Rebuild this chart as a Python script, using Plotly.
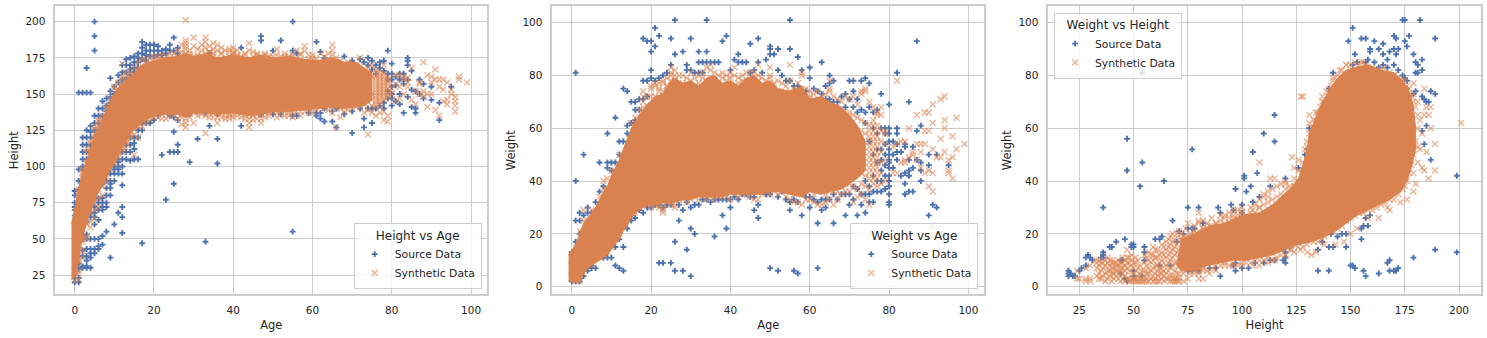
import plotly.graph_objects as go

# colours from the seaborn deep palette, grid is whitegrid '.8'
blue = '#4c72b0'
orange = '#dd8452'
core_orange = '#d9824f'
grid = '#cccccc'
ink = '#262626'

# all points are read off the picture, as (x, [y, y, ...]) columns
# the saturated middle of each cloud cannot be read point by point, so it is kept as an outline

# ---- Height vs Age
height_age_source = [
    (0, [20, 23, 26, 30, 34, 38, 42, 46, 50, 54, 58, 62, 66, 70, 72, 75, 80, 83]),
    (1, [20, 23, 29, 33, 38, 44, 48, 52, 58, 62, 68, 75, 84, 90, 98, 151]),
    (2, [30, 31, 38, 42, 50, 52, 60, 65, 90, 98, 100, 105, 110, 115, 120, 151]),
    (3, [30, 31, 35, 38, 43, 50, 53, 62, 70, 100, 105, 110, 115, 120, 125, 151, 168]),
    (4, [30, 37, 40, 43, 50, 65, 68, 75, 80, 110, 115, 120, 124, 128, 151]),
    (5, [40, 43, 50, 60, 65, 68, 72, 78, 82, 120, 125, 130, 135, 180, 190, 200]),
    (6, [43, 45, 50, 63, 70, 75, 78, 85, 125, 130, 135, 140]),
    (7, [46, 52, 70, 72, 75, 78, 88, 92, 130, 135, 140, 145]),
    (8, [55, 72, 75, 80, 85, 90, 95, 100, 132, 138, 142, 147]),
    (9, [37, 80, 85, 88, 90, 95, 100, 140, 144, 148, 152, 161]),
    (10, [60, 90, 95, 98, 100, 105, 146, 150, 155]),
    (11, [68, 95, 98, 100, 103, 105, 110, 152, 158, 163]),
    (12, [54, 65, 72, 87, 95, 100, 105, 110, 156, 160, 165, 170]),
    (13, [105, 110, 115, 160, 165, 170, 174]),
    (14, [104, 110, 115, 120, 163, 167, 170, 175]),
    (15, [105, 112, 116, 120, 165, 168, 172, 176]),
    (16, [105, 120, 125, 130, 168, 172, 175, 178]),
    (17, [47, 125, 130, 135, 174, 178, 182, 186]),
    (18, [130, 134, 173, 177, 180, 184]),
    (19, [130, 176, 180, 184]),
    (20, [132, 176, 180, 184]),
    (21, [135, 177, 180, 183]),
    (22, [108, 177, 180]),
    (23, [77, 178, 181]),
    (24, [110, 135, 180, 184]),
    (25, [88, 110, 124, 134, 180, 189]),
    (26, [110, 115, 132, 178, 182]),
    (29, [103, 136]),
    (31, [119, 138]),
    (33, [48, 137]),
    (34, [128, 178]),
    (36, [102, 119, 136]),
    (42, [128, 138, 182]),
    (47, [136, 187, 190]),
    (50, [136, 180]),
    (52, [136, 187]),
    (55, [55, 135, 180, 200]),
    (56, [135, 178]),
    (59, [137]),
    (61, [135, 137, 186]),
    (62, [133, 137, 179]),
    (63, [131, 140, 175]),
    (65, [131, 138, 172]),
    (66, [127, 140]),
    (68, [136, 176]),
    (70, [123, 138, 173]),
    (72, [140, 174]),
    (73, [127, 133, 172]),
    (74, [140, 170, 175]),
    (75, [130, 140, 167, 173]),
    (76, [140, 164, 170]),
    (77, [142, 168, 172]),
    (78, [140, 144, 166, 173]),
    (79, [147, 152, 160, 164, 180]),
    (80, [142, 147, 150, 155, 160, 164, 171]),
    (81, [145, 156, 162]),
    (82, [143, 150, 160, 164]),
    (83, [137, 157, 160, 164]),
    (84, [148, 160, 170, 173, 175]),
    (85, [141, 153, 166]),
    (86, [137, 140, 152]),
    (87, [150, 160]),
    (88, [147, 157]),
    (90, [146, 155]),
    (92, [132, 144]),
    (95, [155]),
]
height_age_core_x = [-0.8, 0.6, 1.4, 2.3, 3.2, 4.2, 5.2, 6.2, 7.2, 8.2, 9.2, 10.2, 11.2, 12.4, 13.5, 15,
                     17, 20, 23, 26, 28, 30, 33, 36, 40, 44, 47, 50, 54, 58, 61, 65, 68, 71, 73, 75,
                     75, 73, 71, 68, 65, 61, 58, 54, 50, 47, 44, 40, 36, 33, 30, 28, 26, 23, 20,
                     18, 16, 14.5, 13.5, 12.5, 11.5, 10.5, 9.5, 8.5, 7.5, 6.5, 5.5, 4.5, 3.5, 2.5, 1.5, 0.5, -0.8]
height_age_core_y = [60, 78, 90, 98, 106, 115, 123, 128, 133, 139, 146, 151, 155, 158, 161, 165,
                     170, 173, 175, 176, 178, 176, 178, 175, 177, 175, 177, 175, 176, 174, 173, 175, 172, 172, 168, 165,
                     146, 142, 141, 140, 141, 140, 139, 138, 138, 136, 135, 137, 136, 137, 137, 134, 136, 136, 135,
                     132, 128, 124, 120, 115, 110, 105, 100, 96, 91, 85, 79, 72, 65, 56, 45, 26, 22]
height_age_edge = [
    (1, [28, 36, 80, 84]), (2, [42, 50, 94, 98]), (3, [52, 60, 104, 110]), (4, [62, 68, 112, 118]),
    (5, [70, 75, 120, 126]), (6, [78, 84, 126, 131]), (7, [86, 90, 131, 135]), (8, [92, 97, 137, 142]),
    (9, [98, 102, 142, 147]), (10, [102, 106, 150, 155]), (11, [106, 110, 153, 158]), (12, [110, 114, 156, 162]),
    (13, [116, 118, 160, 165]), (14, [120, 121, 164]), (16, [128, 168]), (18, [130, 133, 171, 173]),
    (19, [132, 135, 172, 175]), (21, [134, 137, 174, 176]), (22, [133, 136, 173, 177]), (24, [135, 138, 175, 178]),
    (26, [137, 176]), (27, [136, 175, 179]), (29, [136, 139, 176, 180]), (31, [135, 138, 177, 181]),
    (32, [137, 176]), (34, [134, 138, 177, 179]), (35, [137, 176, 181]), (37, [134, 139, 178]),
    (39, [135, 138, 176, 179]), (40, [134, 139, 179]), (41, [135, 176, 180]), (43, [133, 138, 177]),
    (45, [132, 138, 179]), (46, [136, 177]), (48, [134, 139, 178]), (49, [135, 138, 176]), (51, [134, 139, 177]),
    (52, [136, 139, 176]), (53, [135, 178]), (54, [137, 175]), (55, [139, 177]), (57, [135, 178]),
    (59, [137, 140, 174, 177]), (60, [137, 175]), (61, [139, 174]),
]
height_age_synthetic = [
    (0, [21, 24, 28, 33]),
    (1, [22, 26, 34, 82]),
    (2, [38, 48, 92, 96]),
    (3, [50, 102, 112]),
    (4, [58, 110, 116]),
    (5, [64, 122, 128]),
    (6, [72, 128, 132]),
    (7, [80, 133]),
    (8, [90, 140]),
    (10, [103, 154]),
    (12, [112, 171, 160]),
    (13, [113, 116, 163]),
    (15, [108, 122, 168]),
    (16, [120, 127, 172]),
    (17, [128, 174]),
    (20, [134, 176]),
    (23, [133, 176]),
    (25, [135, 178]),
    (26, [133, 180]),
    (27, [129, 134, 177, 184]),
    (28, [127, 130, 133, 136, 175, 178, 181, 183, 185, 187, 201]),
    (29, [134, 178]),
    (30, [130, 137, 176, 183, 189]),
    (32, [136, 180, 184]),
    (33, [123, 135, 178, 182, 186, 189]),
    (34, [136, 179, 183]),
    (35, [134, 178, 185]),
    (36, [130, 134, 180, 184]),
    (37, [136, 178, 182]),
    (38, [133, 135, 180]),
    (39, [133, 136, 181]),
    (40, [136, 178, 182]),
    (41, [138, 177]),
    (42, [134, 137, 176]),
    (43, [135, 178]),
    (44, [127, 130, 133, 136, 180, 185]),
    (45, [135, 176]),
    (46, [133, 137, 178]),
    (47, [130, 133, 136, 176]),
    (48, [137, 177]),
    (49, [137, 175]),
    (50, [138, 176]),
    (51, [137, 181]),
    (53, [138, 176]),
    (54, [135, 176]),
    (55, [134, 137, 175]),
    (56, [138, 180]),
    (57, [138, 177]),
    (58, [138, 180, 183]),
    (60, [140, 173, 177]),
    (62, [141, 172, 178]),
    (63, [140, 172, 176]),
    (64, [139, 174, 178]),
    (65, [137, 141, 173, 177, 180, 184]),
    (66, [127, 140, 175]),
    (67, [134, 140, 173]),
    (68, [138, 141, 171]),
    (69, [139, 172]),
    (70, [140, 171]),
    (71, [141, 170]),
    (72, [141, 169, 175]),
    (73, [137, 143, 147, 163, 167]),
    (74, [122, 139, 144, 148, 164, 168]),
    (75, [137, 142, 146, 150, 162, 170]),
    (76, [135, 141, 143, 145, 147, 149, 151, 153, 155, 157, 159, 161, 163, 165, 167]),
    (77, [137, 143, 145, 147, 149, 151, 153, 155, 157, 159, 161, 163, 165]),
    (78, [132, 138, 146, 148, 150, 152, 154, 156, 158, 160, 162, 164, 170]),
    (79, [131, 135, 148, 150, 152, 154, 156, 158, 160, 162]),
    (80, [150, 154]),
    (81, [145, 157, 163]),
    (82, [147, 155, 163]),
    (83, [150, 160, 162]),
    (84, [155, 158, 161]),
    (85, [146, 168]),
    (86, [143, 152]),
    (87, [150, 157, 158]),
    (88, [148, 152, 172]),
    (89, [141, 150, 163]),
    (90, [150, 158, 162]),
    (91, [139, 160, 167]),
    (92, [135, 155, 160]),
    (93, [145, 153, 160]),
    (94, [143, 146, 158]),
    (95, [150, 153]),
    (96, [138, 142, 145, 148]),
    (97, [160, 162]),
    (99, [158]),
]

# ---- Weight vs Age
weight_age_source = [
    (0, [2, 5, 9, 12, 13]),
    (1, [2, 14, 17, 25, 40, 81]),
    (2, [2, 3, 20, 25, 28]),
    (3, [4, 27, 50]),
    (4, [6, 28, 30]),
    (5, [7, 8, 28]),
    (6, [7, 32]),
    (7, [36, 47]),
    (8, [38, 11]),
    (9, [11, 45, 47, 58]),
    (10, [11, 44, 47]),
    (11, [8, 15, 47, 64]),
    (12, [7, 18, 50, 55]),
    (13, [6, 15, 55, 75]),
    (14, [22, 58, 61, 74]),
    (15, [25, 62, 70]),
    (16, [26, 63, 67, 70]),
    (17, [29, 67, 71]),
    (18, [28, 71, 78, 94]),
    (19, [30, 72, 78, 93]),
    (20, [30, 79, 82, 89, 93]),
    (21, [31, 78, 91, 98]),
    (22, [9, 31, 79, 95]),
    (23, [9, 30, 80]),
    (24, [31, 81]),
    (25, [9, 31, 84, 94]),
    (26, [6, 17, 88, 101]),
    (27, [25, 31]),
    (28, [6, 29, 89]),
    (29, [14, 32, 82, 84]),
    (30, [4, 22, 30, 82, 94]),
    (31, [20, 31, 81]),
    (32, [31, 81, 85, 89]),
    (33, [33, 81, 85]),
    (34, [33, 85, 89, 101]),
    (35, [32, 85]),
    (36, [19, 33, 85]),
    (37, [33, 85]),
    (38, [27, 33, 93]),
    (39, [22, 33, 95]),
    (40, [30, 33, 82]),
    (41, [34, 86]),
    (42, [33, 85, 88]),
    (43, [35, 85]),
    (44, [35, 85]),
    (45, [34, 81, 92]),
    (46, [29, 34, 82]),
    (47, [26, 31, 85, 94]),
    (48, [36, 81]),
    (49, [35, 86]),
    (50, [7, 35, 88, 90, 91]),
    (51, [37, 88]),
    (52, [6, 34, 82, 90]),
    (53, [36, 80]),
    (54, [33, 78]),
    (55, [29, 32, 78, 90, 101]),
    (56, [6, 33, 76]),
    (57, [5, 32, 76, 87]),
    (58, [27, 35, 82]),
    (59, [34, 74]),
    (60, [30, 34, 79, 83]),
    (61, [33, 75]),
    (62, [7, 24, 32, 74]),
    (63, [29, 33, 73, 85]),
    (64, [30, 33, 71, 76]),
    (65, [33, 37, 71, 77, 80]),
    (66, [24, 35, 70, 78]),
    (67, [33, 70]),
    (68, [35, 72]),
    (69, [27, 35, 68, 73]),
    (70, [31, 35, 71, 78]),
    (71, [33, 38, 68, 74, 78]),
    (72, [27, 37, 66, 71]),
    (73, [31, 35, 67, 78]),
    (74, [28, 35, 40, 62, 66, 79]),
    (75, [32, 35, 38, 55, 68, 77]),
    (76, [32, 36, 42, 50, 60, 66]),
    (77, [36, 40, 47, 52, 58, 67]),
    (78, [36, 40, 44, 48, 52, 60, 73]),
    (79, [37, 42, 46, 50, 54, 58, 60]),
    (80, [31, 32, 35, 38, 40, 42, 45, 47, 48, 50, 52, 55, 58, 60, 69]),
    (81, [45, 50, 55]),
    (82, [48, 51, 54, 58, 60, 81]),
    (83, [42, 51]),
    (84, [35, 39, 43, 53, 54]),
    (85, [36, 42, 44, 48, 70]),
    (86, [36, 45, 53]),
    (87, [48, 59, 93]),
    (88, [40, 44, 47, 61]),
    (90, [27, 46, 50]),
    (91, [31]),
    (92, [30, 50]),
    (95, [46]),
]
weight_age_core_x = [-0.8, 1, 2, 3, 4, 5, 6, 7, 8, 9, 10, 11, 12, 13, 14, 15,
                     17, 19, 21, 23, 25, 26, 28, 30, 32, 34, 36, 38, 40, 42, 44, 46, 48, 50, 52, 55, 58, 60, 63, 65,
                     68, 70, 72, 74,
                     74, 72, 70, 68, 65, 63, 60, 58, 55, 52, 50, 48, 46, 44, 42, 40, 38, 36, 34, 32, 30, 28, 26, 24,
                     21, 19, 17, 15, 14, 13, 12, 11, 10, 9, 8, 7, 6, 5, 4, 3, 2, 1, -0.8]
weight_age_core_y = [12, 16, 20, 24, 26, 28, 30, 33, 36, 38, 42, 45, 48, 52, 56, 60,
                     65, 69, 72, 73, 78, 79, 77, 78, 76, 79, 80, 77, 78, 76, 79, 80, 77, 78, 75, 74, 76, 71, 72, 70,
                     68, 65, 61, 55,
                     44, 41, 39, 37, 36, 35, 36, 34, 35, 36, 36, 35, 35, 35, 35, 35, 34, 34, 34, 34, 33, 33, 32, 32,
                     31, 31, 29, 26, 23, 21, 18, 16, 14, 12, 11, 10, 9, 8, 7, 5, 2, 2, 2]
weight_age_edge = [
    (16, [28, 64]), (18, [31, 68, 72]), (20, [30, 33, 72, 76]), (21, [31, 34, 72, 77]), (22, [31, 35, 74, 75]),
    (23, [30, 33, 74, 78]), (24, [32, 35, 76, 79]), (25, [31, 34, 78, 81]), (26, [31, 35, 78, 82]),
    (27, [33, 36, 76, 80]), (28, [33, 36, 77, 80]), (29, [32, 35, 76, 79]), (30, [33, 37, 78, 81]),
    (31, [34, 37, 76, 79]), (32, [33, 36, 77, 80]), (33, [34, 37, 79, 81]), (34, [33, 36, 78, 83]),
    (35, [34, 37, 79, 84]), (36, [33, 36, 78, 81]), (37, [34, 38, 77, 80]), (38, [34, 37, 79, 81]),
    (39, [34, 36, 78, 80]), (40, [33, 37, 79, 81]), (41, [35, 38, 76, 80]), (42, [34, 37, 77, 79]),
    (43, [35, 38, 78, 80]), (44, [35, 37, 77, 81]), (45, [34, 38, 78, 81]), (46, [33, 37, 77, 81]),
    (47, [33, 36, 78, 80]), (48, [35, 38, 76, 79]), (49, [36, 38, 75, 78]), (50, [35, 38, 76, 80]),
    (51, [36, 38, 74, 77]), (52, [35, 37, 74, 78]), (53, [36, 38, 73, 77]), (54, [34, 37, 72, 76]),
    (55, [33, 36, 74, 78]), (56, [32, 35, 72, 75]), (57, [32, 36, 71, 77]), (58, [31, 35, 72, 80]),
    (59, [33, 36, 70, 75]), (60, [33, 37, 71, 74]), (61, [32, 35, 69, 73]), (62, [31, 36, 70, 74]),
    (63, [31, 36, 69, 72]), (64, [32, 35, 68, 73]), (65, [33, 36, 68, 74]), (66, [31, 36, 67, 72]),
    (67, [33, 36, 66, 71]), (68, [35, 38, 65, 70]), (69, [36, 39, 64, 72]),
]
weight_age_synthetic = [
    (1, [2, 15]),
    (2, [2, 21]),
    (3, [5, 25, 29]),
    (5, [8, 29]),
    (7, [11, 34]),
    (8, [12, 37, 40]),
    (9, [13, 41]),
    (10, [15, 44]),
    (12, [20, 50]),
    (15, [28, 62]),
    (17, [30, 67]),
    (18, [31, 70, 74]),
    (19, [31, 72]),
    (20, [31, 75]),
    (21, [33, 76]),
    (22, [30, 77]),
    (23, [28, 29, 77]),
    (24, [32, 76]),
    (25, [32, 80, 83]),
    (26, [30, 33, 80]),
    (35, [82]),
    (41, [83]),
    (47, [84]),
    (50, [83, 79]),
    (55, [84]),
    (58, [81]),
    (60, [72]),
    (65, [75, 78]),
    (70, [36, 39, 66, 71]),
    (71, [32, 38, 65, 72]),
    (72, [34, 37, 64, 69]),
    (73, [35, 39, 43, 59, 63, 73, 74]),
    (74, [33, 38, 42, 58, 62, 74, 75]),
    (75, [31, 37, 41, 43, 45, 47, 49, 51, 53, 55, 57, 59, 61, 70]),
    (76, [39, 41, 43, 45, 47, 49, 51, 53, 55, 57, 59, 61, 63, 68]),
    (77, [38, 41, 43, 45, 47, 49, 51, 53, 55, 57, 59, 61, 65, 66]),
    (78, [39, 43, 47, 51, 55, 59, 65, 68]),
    (79, [40, 48, 54, 58, 59]),
    (81, [43, 53]),
    (82, [43, 54, 78]),
    (83, [47, 55]),
    (84, [47, 48, 55]),
    (85, [49, 60]),
    (86, [50, 51]),
    (87, [48, 54, 65]),
    (88, [45, 51, 54]),
    (89, [43, 54, 59, 66]),
    (90, [38, 44, 59, 66]),
    (91, [23, 36, 43, 52, 62, 69]),
    (92, [49]),
    (93, [49, 56, 71]),
    (94, [51, 60, 63, 72]),
    (95, [43, 44, 48]),
    (96, [41, 49, 57]),
    (97, [52, 64]),
    (99, [54]),
]

# ---- Weight vs Height
weight_height_source = [
    (20, [4, 5, 6]), (21, [5]), (22, [4]), (23, [4]), (25, [6]), (26, [7]), (28, [8, 11]), (29, [12]),
    (30, [11]), (31, [10]), (35, [11]), (36, [11, 12, 13, 30]), (39, [15]), (40, [15]), (42, [17]),
    (44, [5, 10]), (45, [10]), (46, [3, 18]), (47, [2, 44, 56]), (49, [15, 16]), (50, [4, 6, 15, 16]),
    (53, [38]), (54, [4, 47, 81]), (55, [10, 13, 15]), (60, [18]), (62, [8, 18]), (63, [19]), (64, [40]),
    (67, [8]), (68, [25]), (70, [17]), (71, [21]), (73, [20]), (75, [6, 22, 30]), (77, [6, 22, 52]),
    (78, [22]), (80, [6, 30]), (82, [18, 24]), (85, [7, 22]), (88, [7]), (89, [30]), (90, [4, 28]),
    (95, [31]), (96, [8, 29]), (97, [6, 9, 37]), (100, [7, 28, 31]), (101, [41, 42]), (102, [36]),
    (103, [7]), (104, [38]), (105, [32, 51]), (106, [9]), (107, [43]), (108, [34]), (110, [9, 58]),
    (113, [10, 38]), (115, [10, 55, 65]), (119, [10]), (120, [9, 11, 13, 41]), (122, [15]), (126, [45]),
    (129, [50]), (130, [52]), (131, [47, 60]), (135, [6, 14]), (137, [17]), (140, [6, 15, 75]),
    (141, [20, 69]), (142, [15, 81]), (144, [19]), (146, [20]), (148, [15, 20]), (149, [93]),
    (150, [8]), (151, [8, 84, 98]), (152, [7, 88]), (153, [85]), (155, [18, 22, 94]), (156, [6, 23, 82]),
    (157, [4, 26, 94, 85]), (158, [23, 86]), (159, [27, 89, 90]), (161, [93, 85]), (163, [5, 90, 83]),
    (165, [92, 84, 88]), (167, [9, 86, 83]), (168, [6, 10, 89]), (170, [6, 84, 90, 95]), (171, [6, 94, 88]),
    (172, [7, 90, 82]), (174, [101, 80]), (175, [93, 101, 79]), (176, [91, 78, 75]), (177, [95, 72]),
    (179, [11, 88, 73]), (180, [81, 85, 74]), (181, [81, 84]), (183, [59, 72, 82, 86]), (184, [54, 71]),
    (185, [61, 70]), (186, [70]), (187, [48, 74]), (182, [101]), (189, [14, 73, 94]), (199, [13, 42]),
]
weight_height_core_x = [70, 72, 78, 85, 92, 100, 108, 114, 118, 122, 126, 128, 130, 131, 134, 137, 140, 144, 148, 152,
                        158, 164, 170, 174, 177, 179, 180, 180, 178, 176, 173, 168, 163, 158, 153, 148, 143, 138,
                        132, 126, 120, 114, 108, 102, 96, 90, 84, 78, 72, 70]
weight_height_core_y = [8, 18, 20, 23, 24, 27, 28, 31, 34, 37, 41, 46, 52, 58, 64, 70, 74, 79, 82, 83,
                        84, 82, 81, 78, 74, 68, 60, 52, 45, 40, 36, 33, 31, 29, 27, 24, 21, 19,
                        17, 16, 14, 12, 11, 10, 10, 9, 8, 6, 6, 8]
weight_height_edge = [
    (72, [18, 20]), (74, [6, 19, 22]), (76, [5, 20]), (78, [6, 9, 21, 23]), (80, [6, 21, 24]), (82, [7, 22, 25]),
    (84, [6, 22, 24]), (86, [7, 23, 26]), (88, [8, 24]), (90, [8, 25, 27]), (92, [9, 24, 27]), (94, [8, 26, 28]),
    (96, [9, 26, 29]), (98, [8, 27, 29]), (100, [9, 28, 30]), (102, [9, 27]), (104, [9, 28, 30]),
    (106, [10, 28, 31]), (108, [10, 30, 33]), (110, [10, 31, 34]), (112, [11, 32, 34]), (114, [10, 33, 37]),
    (116, [11, 34, 38]), (118, [12, 35, 39]), (120, [12, 37, 40]), (122, [14, 38]), (124, [13, 38, 41]),
    (126, [15, 40, 44]), (128, [15, 43, 47]), (130, [16, 47, 50, 53]), (131, [58, 62]), (133, [17, 56, 60]),
    (134, [63, 66]), (135, [17, 65]), (136, [19, 68]), (137, [18, 72]), (138, [19, 70]), (140, [20, 72, 75]),
    (141, [21, 76]), (142, [21, 79]), (144, [22, 80]), (146, [23, 82]), (148, [25, 84]), (150, [26, 84]),
    (152, [27, 85]), (154, [28, 84]), (156, [28, 85]), (158, [29, 83]), (160, [29, 83]), (162, [30, 82]),
    (164, [31, 82]), (166, [32, 81]), (168, [33, 81]), (170, [33, 80]), (172, [35, 79]), (174, [37, 78]),
    (175, [38, 41]), (176, [40, 76]), (177, [43, 75]), (178, [46, 72]), (179, [50, 70]), (180, [55, 68]),
    (181, [53, 60, 65]),
]
weight_height_synthetic = [
    (24, [3, 6]), (25, [3]), (28, [2, 3, 7]), (30, [2, 3, 8]), (33, [4, 7, 9, 10]), (35, [3, 6, 9]),
    (37, [2, 5, 8, 10]), (39, [4, 6, 8, 10]), (41, [3, 5, 7, 9]), (43, [3, 6, 8, 10]),
    (45, [3, 5, 7, 9, 11]), (47, [3, 7, 9, 11, 14]), (49, [2, 4, 8, 10, 12]), (51, [2, 3, 6, 9, 11]),
    (53, [2, 3, 5, 8]), (55, [2, 4, 6, 9, 12]), (57, [2, 5, 7, 10, 13]), (59, [2, 4, 7, 10, 12, 15]),
    (61, [2, 4, 6, 8, 11, 14]), (63, [3, 5, 7, 10, 13, 16]), (65, [3, 5, 8, 11, 14, 17]),
    (67, [2, 4, 7, 10, 13, 16, 19]), (69, [2, 3, 6, 9, 12, 15, 18]), (71, [2, 3, 5, 8, 11, 14, 18, 21]),
    (34, [3, 5, 8, 10]), (36, [4, 7, 9]), (38, [3, 6, 9, 11]), (40, [2, 5, 7, 9, 10]), (42, [4, 6, 8, 9]),
    (44, [2, 5, 7, 9]), (46, [2, 4, 6, 8, 10]), (48, [2, 3, 6, 9, 11]), (50, [2, 3, 5, 7, 9]), (52, [2, 4, 7, 10]),
    (54, [2, 3, 6]), (56, [2, 3, 5, 8, 11]), (58, [3, 6, 9, 12]), (60, [2, 3, 5, 8, 11, 14]), (62, [2, 5, 7, 9, 12]),
    (64, [2, 4, 6, 9, 12, 15]), (66, [3, 6, 9, 12, 15, 18]), (68, [2, 4, 8, 11, 14, 17, 20]),
    (70, [2, 3, 5, 9, 13, 16, 20]),
    (73, [2, 5, 8, 19]), (75, [3, 7, 24]), (78, [5, 21]), (80, [3, 5, 25, 28]), (82, [3, 6, 22]),
    (85, [5, 23]), (88, [6, 24]), (92, [8, 26]), (96, [8, 27]), (100, [8, 28]), (105, [8, 29]),
    (108, [8, 30, 47]), (110, [35]), (112, [9, 36]), (113, [41]), (115, [10, 41]), (120, [12, 39]),
    (123, [14, 49]), (124, [45]), (126, [48]), (127, [14, 72]), (128, [72]), (129, [52]), (130, [13, 55]),
    (131, [65]), (132, [12, 60]), (133, [63]), (134, [13]), (135, [66]), (137, [70]), (138, [16]),
    (139, [74]), (142, [78]), (143, [16]), (145, [82]), (147, [17]), (148, [84]), (150, [20]), (153, [22]),
    (155, [85]), (157, [84]), (158, [26]), (163, [26]), (165, [83]), (167, [30]), (168, [29]), (170, [80]),
    (173, [32]), (175, [78]), (176, [33]), (179, [36, 43, 73, 77]), (180, [39]), (181, [47, 70]),
    (182, [52, 63]), (183, [45, 58]), (184, [44, 65, 75]), (185, [51, 68]), (186, [41, 65]),
    (187, [60, 68]), (189, [44, 54]), (201, [62]),
]

age_ticks = [0, 20, 40, 60, 80, 100]
height_ticks = [25, 50, 75, 100, 125, 150, 175, 200]
weight_ticks = [0, 20, 40, 60, 80, 100]
width_px, height_px = 1487, 338


def flatten(columns):
    xs, ys = [], []
    for x, vals in columns:
        for v in vals:
            xs.append(x)
            ys.append(v)
    return xs, ys


panels = [
    dict(src=height_age_source, syn=height_age_synthetic + height_age_edge, core=(height_age_core_x, height_age_core_y),
         title='Height vs Age', xlabel='Age', ylabel='Height', xticks=age_ticks, yticks=height_ticks,
         xrange=[-4.9, 104.1], yrange=[11.7, 210.8], left=55.3, right=487.3,
         legend=dict(x=481.7, y=289, xanchor='right', yanchor='bottom')),
    dict(src=weight_age_source, syn=weight_age_synthetic + weight_age_edge, core=(weight_age_core_x, weight_age_core_y),
         title='Weight vs Age', xlabel='Age', ylabel='Weight', xticks=age_ticks, yticks=weight_ticks,
         xrange=[-4.9, 104], yrange=[-2.9, 106.3], left=552.3, right=984.3,
         legend=dict(x=978.3, y=289, xanchor='right', yanchor='bottom')),
    dict(src=weight_height_source, syn=weight_height_synthetic + weight_height_edge,
         core=(weight_height_core_x, weight_height_core_y),
         title='Weight vs Height', xlabel='Height', ylabel='Weight', xticks=[25, 50, 75, 100, 125, 150, 175, 200],
         yticks=weight_ticks, xrange=[10.7, 210], yrange=[-2.9, 106.3], left=1048.3, right=1480.7,
         legend=dict(x=1054, y=12.5, xanchor='left', yanchor='top')),
]

fig = go.Figure()
top, bottom = 6, 294.3
layout = dict(width=width_px, height=height_px, autosize=False, margin=dict(l=0, r=0, t=0, b=0),
              paper_bgcolor='white', plot_bgcolor='white', font=dict(family='DejaVu Sans', size=10.5, color=ink))

for i, p in enumerate(panels):
    n = '' if i == 0 else str(i + 1)
    xa, ya = 'x' + n, 'y' + n
    leg = 'legend' + n

    sx, sy = flatten(p['src'])
    fig.add_trace(go.Scatter(x=sx, y=sy, xaxis=xa, yaxis=ya, mode='markers', name='Source Data', legend=leg,
                             marker=dict(symbol='cross-thin', size=4.2, color=blue, line=dict(color=blue, width=1.9))))
    # saturated middle of the synthetic cloud
    fig.add_trace(go.Scatter(x=p['core'][0], y=p['core'][1], xaxis=xa, yaxis=ya, mode='lines', fill='toself',
                             fillcolor=core_orange, line=dict(color=core_orange, width=1), showlegend=False,
                             hoverinfo='skip'))
    ox, oy = flatten(p['syn'])
    fig.add_trace(go.Scatter(x=ox, y=oy, xaxis=xa, yaxis=ya, mode='markers', name='Synthetic Data', legend=leg,
                             marker=dict(symbol='x-thin', size=6, color=orange, opacity=0.6,
                                         line=dict(color=orange, width=1.4))))

    axis_common = dict(showgrid=True, gridcolor=grid, gridwidth=1, zeroline=False, showline=True, linecolor=grid,
                       linewidth=1.5, mirror=True, ticks='', tickfont=dict(size=10.5, color=ink))
    layout['xaxis' + n] = dict(axis_common, domain=[p['left'] / width_px, p['right'] / width_px],
                               range=p['xrange'], tickmode='array', tickvals=p['xticks'], ticklabelstandoff=5,
                               title=dict(text=p['xlabel'], font=dict(size=11.5), standoff=6), anchor=ya)
    layout['yaxis' + n] = dict(axis_common, domain=[1 - bottom / height_px, 1 - top / height_px],
                               range=p['yrange'], tickmode='array', tickvals=p['yticks'], ticklabelstandoff=6,
                               title=dict(text=p['ylabel'], font=dict(size=11.5), standoff=4), anchor=xa)
    lg = p['legend']
    layout[leg] = dict(x=lg['x'] / width_px, y=1 - lg['y'] / height_px, xanchor=lg['xanchor'], yanchor=lg['yanchor'],
                       bgcolor='rgba(255,255,255,0.8)', bordercolor=grid, borderwidth=1,
                       font=dict(size=10.8, color=ink), itemwidth=30,
                       title=dict(text=p['title'], side='top center', font=dict(size=12, color=ink)))

fig.update_layout(**layout)
# the page's default body margin would push the plot 8px off
fig.write_html("out.html", config={'displayModeBar': False}, post_script="document.body.style.margin='0';")
